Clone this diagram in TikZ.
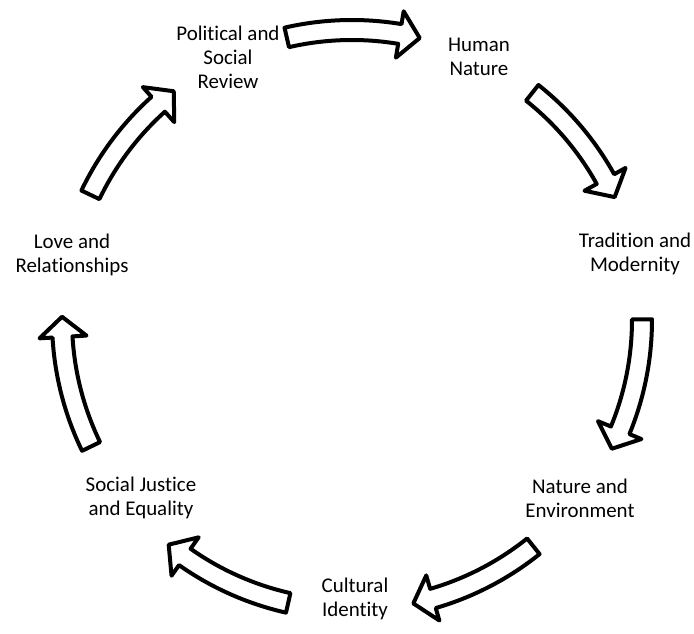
\documentclass[tikz,border=0pt]{standalone}
\usepackage{fontspec}
\setmainfont{Carlito}[Ligatures=CommonOff]
\begin{document}
\begin{tikzpicture}[
	x=0.75pt, y=0.75pt,
	topic/.style={
		align=center,
		font=\fontsize{15.7}{18}\selectfont,
	},
	cycarrow/.style={
		draw=black,
		line width=3pt,
		line join=round,
		fill=white,
	},
]

\useasboundingbox (-352,-314) rectangle (342,320);

\node[topic] (pol) at (-124,263) {Political and\\ Social\\ Review};
\node[topic] (hum) at (127,263) {Human\\ Nature};
\node[topic] (trad) at (283,66) {Tradition and\\ Modernity};
\node[topic] (env) at (228,-178) {Nature and\\ Environment};
\node[topic] (cult) at (3,-279) {Cultural\\ Identity};
\node[topic] (soc) at (-211,-178) {Social Justice\\ and Equality};
\node[topic] (love) at (-280,65) {Love and\\ Relationships};

% curved block arrows, clockwise round the centre
\foreach \m in {90,38.57,-12.86,-64.29,-115.71,-167.14,-218.57} {
	\pgfmathsetmacro{\tailang}{\m+13}
	\pgfmathsetmacro{\baseang}{\m-9.5}
	\pgfmathsetmacro{\tipang}{\m-13.5}
	\draw[cycarrow] (\tailang:300) arc[start angle=\tailang, end angle=\baseang, radius=300]
		-- (\baseang:313) -- (\tipang:290) -- (\baseang:266) -- (\baseang:280)
		arc[start angle=\baseang, end angle=\tailang, radius=280] -- cycle;
}

\end{tikzpicture}
\end{document}
